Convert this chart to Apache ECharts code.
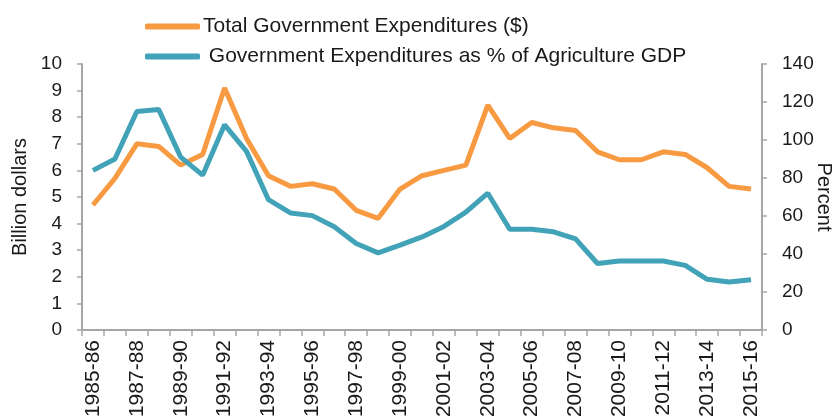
<!DOCTYPE html>
<html><head><meta charset="utf-8">
<script src="https://cdn.jsdelivr.net/npm/echarts@6/dist/echarts.min.js"></script>
<style>html,body{margin:0;padding:0;background:#fff}#c{width:833px;height:418px}</style>
</head><body><div id="c"></div>
<script>
var categories = ['1985-86','1986-87','1987-88','1988-89','1989-90','1990-91','1991-92','1992-93','1993-94','1994-95','1995-96','1996-97','1997-98','1998-99','1999-00','2000-01','2001-02','2002-03','2003-04','2004-05','2005-06','2006-07','2007-08','2008-09','2009-10','2010-11','2011-12','2012-13','2013-14','2014-15','2015-16'];
var totalExpenditures = [4.7,5.7,7.0,6.9,6.2,6.6,9.1,7.2,5.8,5.4,5.5,5.3,4.5,4.2,5.3,5.8,6.0,6.2,8.45,7.2,7.8,7.6,7.5,6.7,6.4,6.4,6.7,6.6,6.1,5.4,5.3];
var pctAgGDP = [84,90,115,116,91,81.5,108,94,68.6,61.6,60.2,54.3,45.5,40.6,44.7,49,54.5,62,72,53,53,51.7,48,35,36.3,36.3,36.3,34,26.7,25.3,26.5];
var leftTicks = {min:0, max:10, interval:1};
var rightTicks = {min:0, max:140, interval:20};
var names = ['Total Government Expenditures ($)', ' Government Expenditures as % of Agriculture GDP'];

var chart = echarts.init(document.getElementById('c'));
var font = 'Liberation Sans, Arial, sans-serif';
var axisCol = '#a6a6a6';
var txt = '#1a1a1a';
chart.setOption({
  animation: false,
  textStyle: {fontFamily: font},
  legend: {
    orient: 'vertical', left: 140, top: 11, itemWidth: 55, itemHeight: 6, itemGap: 9,
    icon: 'roundRect',
    textStyle: {fontSize: 21, color: txt, fontFamily: font, padding:[0,0,0,-2]},
    data: names
  },
  grid: {left: 82, right: 71, top: 64, bottom: 88, containLabel: false, outerBoundsMode: 'none'},
  xAxis: {
    type: 'category', data: categories, boundaryGap: true,
    axisLine: {lineStyle: {color: axisCol, width: 2}},
    axisTick: {show: true, interval: 0, length: 6, lineStyle: {color: axisCol, width: 1.5}},
    axisLabel: {interval: 1, rotate: 90, fontSize: 21, color: txt, margin: 10, fontFamily: font}
  },
  yAxis: [{
    type: 'value', min: leftTicks.min, max: leftTicks.max, interval: leftTicks.interval,
    name: 'Billion dollars', nameLocation: 'middle', nameGap: 52, nameRotate: 90, nameMoveOverlap: false,
    nameTextStyle: {fontSize: 20, color: txt, fontFamily: font},
    axisLine: {show: true, lineStyle: {color: axisCol, width: 2}},
    axisTick: {show: true, length: 5, lineStyle: {color: axisCol, width: 1.5}},
    splitLine: {show: false},
    axisLabel: {fontSize: 19, color: txt, margin: 20, fontFamily: font}
  }, {
    type: 'value', position: 'right', min: rightTicks.min, max: rightTicks.max, interval: rightTicks.interval,
    name: 'Percent', nameLocation: 'middle', nameGap: 52, nameRotate: -90, nameMoveOverlap: false,
    nameTextStyle: {fontSize: 20, color: txt, fontFamily: font},
    axisLine: {show: true, lineStyle: {color: axisCol, width: 2}},
    axisTick: {show: true, length: 5, lineStyle: {color: axisCol, width: 1.5}},
    splitLine: {show: false},
    axisLabel: {fontSize: 19, color: txt, margin: 20, fontFamily: font}
  }],
  series: [{
    name: names[0], type: 'line', yAxisIndex: 0, data: totalExpenditures,
    symbol: 'none', lineStyle: {color: '#F89A42', width: 5}, itemStyle: {color: '#F89A42'}
  }, {
    name: names[1], type: 'line', yAxisIndex: 1, data: pctAgGDP,
    symbol: 'none', lineStyle: {color: '#42A3B8', width: 5}, itemStyle: {color: '#42A3B8'}
  }]
});
</script></body></html>
